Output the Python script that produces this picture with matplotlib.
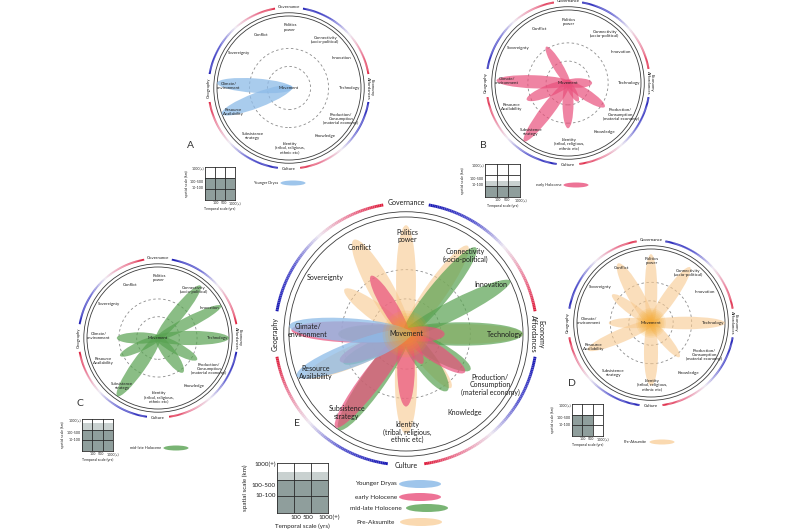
import numpy as np
import matplotlib.pyplot as plt
from matplotlib.patches import Ellipse, Circle
from matplotlib.collections import LineCollection
from matplotlib.colors import LinearSegmentedColormap

plt.rcParams['font.family'] = ['Lato', 'DejaVu Sans']

# spoke labels, clockwise from the top, and their angle on the wheel (deg)
spokes = ["Politics\npower", "Connectivity\n(socio-political)", "Innovation", "Technology",
          "Production/\nConsumption\n(material economy)", "Knowledge",
          "Identity\n(tribal, religious,\nethnic etc)", "Subsistence\nstrategy",
          "Resource\nAvailability", "Climate/\nenvironment", "Sovereignty", "Conflict"]
spoke_angles = [89, 53, 30, 0, -31, -53, -89, -127, -157, 178, 145, 118]

domains = ["Governance", "Economy\nAffordances", "Culture", "Geography"]
domain_angles = [90, 0, -90, -180]
domain_gaps = [10, 10, 8, 10]

# petals: direction (deg), length (share of wheel radius), width
yd_dir = [176, -159]
yd_len = [1.0, 1.0]
yd_wid = [0.2, 0.21]

eh_dir = [178, 121, -127, -90, -33, 0, -158, -61]
eh_len = [0.98, 0.58, 1.0, 0.62, 0.6, 0.33, 0.61, 0.29]
eh_wid = [0.18, 0.13, 0.18, 0.15, 0.15, 0.13, 0.16, 0.1]

ml_dir = [51, 27, 0, 180, -155, -125, -29, -54]
ml_len = [0.95, 1.0, 1.0, 0.58, 0.59, 1.0, 0.63, 0.6]
ml_wid = [0.18, 0.16, 0.2, 0.16, 0.14, 0.2, 0.16, 0.18]

pa_dir = [90, 119, 144, 55, 0, -50, -90, -157, 180]
pa_len = [0.93, 0.92, 0.65, 0.92, 1.0, 0.6, 0.85, 0.93, 0.57]
pa_wid = [0.17, 0.21, 0.15, 0.18, 0.17, 0.14, 0.19, 0.18, 0.14]

periods = ["Younger Dryas", "early Holocene", "mid-late Holocene", "Pre-Aksumite"]
colors = ["#8dbbe8", "#e9507c", "#58a251", "#f8c98f"]
alphas = [0.75, 0.7, 0.7, 0.6]

# scale grids: shaded columns (temporal), dark rows and faded band (spatial)
grid_cols = [3, 3, 3, 2, 3]
grid_dark = [2.0, 1.0, 2.0, 2.0, 2.0]
grid_fade = [0.0, 0.5, 0.6, 0.0, 0.45]
spatial_ticks = ["1000(+)", "100-500", "10-100"]
temporal_ticks = ["100", "500", "1000(+)"]

W, H = 800, 530
fig = plt.figure(figsize=(8, 5.3), dpi=100)

base = fig.add_axes([0, 0, 1, 1])
base.set_xlim(0, W)
base.set_ylim(H, 0)
base.axis('off')

ring_cmap = LinearSegmentedColormap.from_list(
    'ring', [(0, '#1a1ab4'), (0.3, '#5a5ad0'), (0.55, '#eee8f2'), (0.8, '#ea7894'), (1, '#de1f3e')])


def px_axes(x0, y0, x1, y1):
    return fig.add_axes([x0 / W, (H - y1) / H, (x1 - x0) / W, (y1 - y0) / H])


def wheel(cx, cy, R, series, glow=False):
    s = 1.3 * R
    ax = px_axes(cx - s, cy - s, cx + s, cy + s)
    ax.set_xlim(-1.3, 1.3)
    ax.set_ylim(-1.3, 1.3)
    ax.axis('off')
    k = R / 117

    for i in series:
        dirs, lens, wids = petals[i]
        for d, L, w in zip(dirs, lens, wids):
            t = np.radians(d)
            c = (L - 0.05) / 2
            ax.add_patch(Ellipse((c * np.cos(t), c * np.sin(t)), L + 0.05, w, angle=d,
                                 color=colors[i], alpha=alphas[i], lw=0, zorder=2))
    if glow:
        for r in np.linspace(0.2, 0.02, 9):
            ax.add_patch(Circle((0, 0), r, color='#f5a51c', alpha=0.13, lw=0, zorder=3))

    for r in [0.3, 0.55]:
        ax.add_patch(Circle((0, 0), r, fill=False, ls=(0, (3, 3)), lw=0.6, color='#8c8c8c', zorder=1))
    for r in [1.0, 1.045]:
        ax.add_patch(Circle((0, 0), r, fill=False, lw=0.6, color='#3c3c3c', zorder=1))

    # coloured outer ring between the domain labels
    for j, a0 in enumerate(domain_angles):
        a1 = a0 - 90
        th = np.radians(np.linspace(a0 - domain_gaps[j], a1 + domain_gaps[(j + 1) % 4], 90))
        pts = np.column_stack([1.12 * np.cos(th), 1.12 * np.sin(th)])
        segs = np.stack([pts[:-1], pts[1:]], axis=1)
        lc = LineCollection(segs, colors=ring_cmap(np.linspace(0, 1, len(segs))),
                            linewidths=1.8 * k + 0.3, capstyle='butt')
        ax.add_collection(lc)

    fs = 5 * k
    for name, a in zip(spokes, spoke_angles):
        t = np.radians(a)
        ax.text(0.84 * np.cos(t), 0.84 * np.sin(t), name, ha='center', va='center',
                fontsize=fs, color='#1e1e1e', multialignment='center', zorder=5, linespacing=1.05)
    ax.text(0, 0, "Movement", ha='center', va='center', fontsize=fs, color='#1e1e1e', zorder=5)

    rots = [0, -90, 0, 90]
    for name, a, rot in zip(domains, domain_angles, rots):
        t = np.radians(a)
        ax.text(1.12 * np.cos(t), 1.12 * np.sin(t), name, ha='center', va='center', rotation=rot,
                fontsize=fs, color='#1e1e1e', multialignment='center', linespacing=1.0, clip_on=False)
    return ax


def scale_grid(box, g, fs):
    ax = px_axes(*box)
    ax.set_xlim(0, 3)
    ax.set_ylim(0, 3)
    cols = np.arange(grid_cols[g])
    ax.bar(cols, grid_dark[g], width=1, align='edge', color='#8f9e9c', lw=0)
    ax.bar(cols, grid_fade[g], bottom=grid_dark[g], width=1, align='edge', color='#c9d1d0', lw=0)
    for v in [1, 2]:
        ax.axhline(v, color='#2a2a2a', lw=0.6)
        ax.axvline(v, color='#2a2a2a', lw=0.6)
    ax.set_xticks([])
    ax.set_yticks([])
    for sp in ax.spines.values():
        sp.set_linewidth(0.6)
        sp.set_color('#2a2a2a')
    for lab, y in zip(spatial_ticks, [2.9, 1.65, 1.05]):
        ax.text(-0.08, y, lab, ha='right', va='center', fontsize=fs, color='#222')
    for lab, x in zip(temporal_ticks, [1.1, 1.85, 3.05]):
        ax.text(x, -0.12, lab, ha='center', va='top', fontsize=fs, color='#222')
    ax.text(1.5, -0.62, "Temporal scale (yrs)", ha='center', va='top', fontsize=fs, color='#222')
    ax.text(-1.85, 1.5, "spatial scale (km)", ha='center', va='center', rotation=90,
            fontsize=fs, color='#222')


petals = [(yd_dir, yd_len, yd_wid), (eh_dir, eh_len, eh_wid),
          (ml_dir, ml_len, ml_wid), (pa_dir, pa_len, pa_wid)]

wheel(289, 88, 72, [0])
wheel(568, 83, 73, [1])
wheel(158, 338, 71, [2])
wheel(651, 323, 74, [3], glow=True)
wheel(406, 334, 117, [3, 2, 1, 0], glow=True)

scale_grid((205, 167, 235, 200), 0, 2.6)
scale_grid((485, 164, 520, 197), 1, 2.6)
scale_grid((82, 419, 113, 451), 2, 2.6)
scale_grid((572, 404, 603, 436), 3, 2.6)
scale_grid((277, 463, 328, 513), 4, 4.5)

# panel letters
for lab, x, y in [("A", 190, 145), ("B", 483, 145), ("C", 80, 404), ("D", 572, 384), ("E", 297, 423)]:
    base.text(x, y, lab, ha='center', va='center', fontsize=7.5, color='#333')

# small legends, one per panel
for i, (x, y) in enumerate([(293, 183), (576, 185), (176, 448), (662, 442)]):
    base.add_patch(Ellipse((x, y), 25, 5, color=colors[i], alpha=alphas[i] + 0.1, lw=0))
    base.text(x - 15, y, periods[i], ha='right', va='center', fontsize=2.8, color='#222')

# main legend
for i, (x, y) in enumerate([(420, 484), (420, 497), (427, 508), (421, 522)]):
    base.add_patch(Ellipse((x, y), 42, 8, color=colors[i], alpha=alphas[i] + 0.1, lw=0))
    base.text(376, y, periods[i], ha='center', va='center', fontsize=4.6, color='#222')

fig.savefig('out.png', dpi=100)
